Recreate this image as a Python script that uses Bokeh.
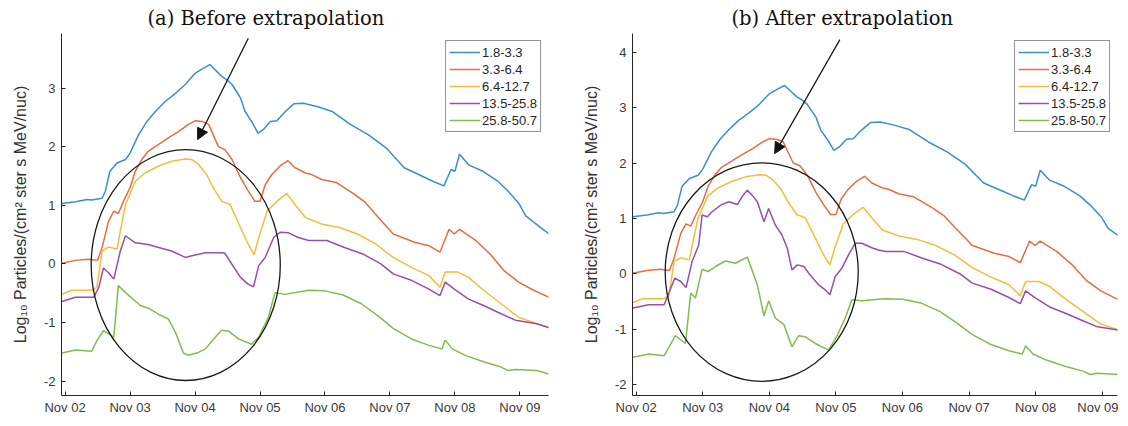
#Particle flux before / after extrapolation, two panels side by side

from bokeh.plotting import figure
from bokeh.layouts import row
from bokeh.models import Range1d, FixedTicker, Legend, LegendItem, Arrow, NormalHead
from bokeh.embed import file_html
from bokeh.resources import INLINE


# x is days since Nov 02 00:00, y is log10 flux
day_ticks = [0, 1, 2, 3, 4, 5, 6, 7]
day_labels = ["Nov 02", "Nov 03", "Nov 04", "Nov 05", "Nov 06", "Nov 07", "Nov 08", "Nov 09"]

channels = ["1.8-3.3", "3.3-6.4", "6.4-12.7", "13.5-25.8", "25.8-50.7"]
colors = ["#3a8fd0", "#e46e43", "#f4bd3c", "#9650ab", "#84bb4f"]

blue = [(-0.05, 1.03), (0.16, 1.06), (0.34, 1.10), (0.41, 1.09), (0.57, 1.12), (0.62, 1.24),
        (0.69, 1.58), (0.80, 1.72), (0.93, 1.78), (1.00, 1.89), (1.13, 2.20), (1.26, 2.43),
        (1.39, 2.60), (1.54, 2.77), (1.70, 2.91), (1.85, 3.06), (2.00, 3.25), (2.13, 3.34),
        (2.23, 3.40), (2.31, 3.31), (2.41, 3.20), (2.49, 3.14), (2.57, 3.06), (2.70, 2.83),
        (2.77, 2.60), (2.87, 2.43), (2.97, 2.23), (3.05, 2.29), (3.16, 2.43), (3.26, 2.44),
        (3.39, 2.60), (3.52, 2.73), (3.67, 2.74), (3.89, 2.68), (4.11, 2.60), (4.39, 2.38),
        (4.67, 2.20), (4.94, 1.98), (5.22, 1.64), (5.49, 1.50), (5.66, 1.41), (5.83, 1.33),
        (5.94, 1.61), (6.00, 1.58), (6.07, 1.87), (6.21, 1.69), (6.43, 1.58), (6.66, 1.41),
        (6.82, 1.24), (6.99, 1.02), (7.09, 0.82), (7.32, 0.62), (7.45, 0.51)]

orange = [(-0.05, 0.01), (0.16, 0.06), (0.36, 0.08), (0.50, 0.06), (0.57, 0.28), (0.67, 0.73),
          (0.75, 0.90), (0.82, 0.86), (0.90, 1.07), (1.00, 1.30), (1.08, 1.58), (1.18, 1.78),
          (1.28, 1.92), (1.44, 2.04), (1.59, 2.15), (1.75, 2.26), (1.90, 2.38), (2.00, 2.44),
          (2.11, 2.43), (2.21, 2.38), (2.28, 2.20), (2.36, 2.00), (2.46, 1.95), (2.57, 1.78),
          (2.70, 1.47), (2.82, 1.24), (2.92, 1.07), (3.00, 1.07), (3.08, 1.35), (3.18, 1.52),
          (3.31, 1.67), (3.43, 1.76), (3.54, 1.64), (3.70, 1.55), (3.78, 1.53), (3.95, 1.44),
          (4.17, 1.39), (4.45, 1.19), (4.62, 1.05), (4.76, 0.87), (5.05, 0.51), (5.38, 0.37),
          (5.60, 0.31), (5.77, 0.20), (5.91, 0.59), (5.99, 0.51), (6.07, 0.59), (6.32, 0.40),
          (6.54, 0.17), (6.76, -0.12), (6.98, -0.31), (7.21, -0.45), (7.45, -0.57)]

yellow = [(-0.05, -0.52), (0.10, -0.45), (0.41, -0.45), (0.49, -0.40), (0.57, 0.22), (0.67, 0.29),
          (0.80, 0.25), (0.85, 0.56), (0.93, 1.01), (1.08, 1.41), (1.23, 1.55), (1.44, 1.67),
          (1.64, 1.75), (1.85, 1.79), (1.95, 1.78), (2.05, 1.70), (2.18, 1.52), (2.28, 1.30),
          (2.41, 1.07), (2.54, 1.01), (2.70, 0.62), (2.82, 0.33), (2.91, 0.16), (2.98, 0.45),
          (3.11, 0.90), (3.26, 1.07), (3.41, 1.20), (3.54, 1.01), (3.70, 0.79), (3.95, 0.68),
          (4.22, 0.62), (4.50, 0.51), (4.78, 0.34), (5.05, 0.11), (5.33, -0.06), (5.60, -0.20),
          (5.77, -0.40), (5.85, -0.14), (6.05, -0.14), (6.21, -0.23), (6.44, -0.45), (6.71, -0.68),
          (6.98, -0.91), (7.26, -1.02), (7.45, -1.08)]

purple = [(-0.05, -0.64), (0.16, -0.57), (0.44, -0.57), (0.52, -0.40), (0.59, -0.07), (0.67, -0.15),
          (0.75, -0.26), (0.85, 0.22), (0.93, 0.48), (1.08, 0.36), (1.28, 0.33), (1.44, 0.28),
          (1.64, 0.22), (1.85, 0.11), (1.95, 0.14), (2.16, 0.19), (2.41, 0.19), (2.46, 0.18),
          (2.57, -0.01), (2.70, -0.23), (2.82, -0.35), (2.90, -0.39), (2.98, -0.03), (3.08, 0.11),
          (3.21, 0.45), (3.31, 0.54), (3.44, 0.53), (3.59, 0.45), (3.75, 0.40), (4.03, 0.40),
          (4.30, 0.28), (4.58, 0.17), (4.86, 0.00), (5.05, -0.17), (5.33, -0.28), (5.60, -0.43),
          (5.77, -0.54), (5.85, -0.31), (5.99, -0.43), (6.21, -0.60), (6.44, -0.71), (6.71, -0.85),
          (6.93, -0.96), (7.26, -1.02), (7.45, -1.09)]

green = [(-0.05, -1.52), (0.16, -1.47), (0.41, -1.49), (0.49, -1.31), (0.59, -1.14), (0.75, -1.25),
         (0.82, -0.37), (0.93, -0.49), (1.16, -0.71), (1.31, -0.77), (1.44, -0.86), (1.59, -0.94),
         (1.70, -1.17), (1.82, -1.52), (1.90, -1.56), (2.05, -1.51), (2.16, -1.45), (2.31, -1.25),
         (2.41, -1.13), (2.52, -1.15), (2.67, -1.28), (2.87, -1.37), (2.98, -1.25), (3.13, -0.91),
         (3.23, -0.49), (3.39, -0.52), (3.59, -0.48), (3.75, -0.45), (4.00, -0.46), (4.28, -0.53),
         (4.56, -0.68), (4.83, -0.90), (5.05, -1.10), (5.33, -1.28), (5.60, -1.39), (5.80, -1.45),
         (5.85, -1.30), (5.96, -1.45), (6.16, -1.56), (6.44, -1.67), (6.71, -1.76), (6.82, -1.82),
         (6.93, -1.80), (7.26, -1.82), (7.45, -1.88)]

# extrapolated part of the two high channels (panel b), rest is same as panel a
purple_after = [(-0.05, -0.62), (0.19, -0.56), (0.42, -0.56), (0.48, -0.38), (0.58, -0.08),
                (0.67, -0.14), (0.75, -0.25), (0.84, 0.22), (0.94, 0.52), (0.99, 1.06), (1.07, 1.03),
                (1.14, 1.12), (1.27, 1.24), (1.39, 1.30), (1.52, 1.25), (1.59, 1.39), (1.67, 1.51),
                (1.74, 1.42), (1.82, 1.30), (1.92, 0.94), (1.99, 1.18), (2.09, 0.88), (2.19, 0.70),
                (2.27, 0.46), (2.34, 0.07), (2.42, 0.16), (2.52, 0.13), (2.61, -0.02), (2.74, -0.20),
                (2.84, -0.29), (2.91, -0.38), (2.99, -0.05), (3.09, 0.10), (3.19, 0.34), (3.29, 0.55),
                (3.39, 0.55), (3.54, 0.47), (3.64, 0.43)]

green_after = [(-0.05, -1.51), (0.19, -1.45), (0.42, -1.48), (0.59, -1.12), (0.74, -1.26),
               (0.82, -0.35), (0.89, -0.44), (0.99, 0.08), (1.08, 0.04), (1.19, 0.13), (1.34, 0.23),
               (1.49, 0.19), (1.67, 0.30), (1.82, -0.20), (1.92, -0.76), (1.99, -0.49), (2.09, -0.80),
               (2.22, -0.92), (2.34, -1.32), (2.44, -1.12), (2.54, -1.14), (2.69, -1.26), (2.89, -1.38),
               (3.01, -1.14), (3.14, -0.80), (3.24, -0.47), (3.39, -0.49), (3.64, -0.46)]

# circle (center x, center y, width, height) and arrow (x0, y0, x1, y1) for each panel
circle_a = (1.857, -0.02, 2.91, 3.94)
circle_b = (1.886, 0.03, 2.90, 3.95)
arrow_a = (2.82, 3.85, 2.04, 2.12)
arrow_b = (3.06, 4.23, 2.08, 2.17)


def spliced(after, before):
    last = after[-1][0]
    return after + [pt for pt in before if pt[0] > last]


def panel(title, series, x_end, y_range, y_ticks, circle, arrow, width, left, right, title_offset):
    p = figure(width=width, height=418, x_range=Range1d(-0.055, x_end), y_range=Range1d(*y_range),
               output_backend="svg", toolbar_location=None,
               min_border_left=left, min_border_right=right, min_border_top=31, min_border_bottom=23)
    p.title.text = title
    p.title.text_font = "DejaVu Serif"
    p.title.text_font_size = "19.5px"
    p.title.text_font_style = "normal"
    p.title.text_color = "#111111"
    p.title.align = "left"
    p.title.offset = title_offset
    p.title.standoff = 8

    p.outline_line_color = None
    p.grid.visible = False

    p.xaxis.ticker = FixedTicker(ticks=day_ticks)
    p.xaxis.major_label_overrides = {t: l for t, l in zip(day_ticks, day_labels)}
    p.yaxis.ticker = FixedTicker(ticks=y_ticks)
    p.yaxis.major_label_overrides = {t: str(t) for t in y_ticks}
    p.yaxis.axis_label = "Log\u2081\u2080 Particles/(cm\u00b2 ster s MeV/nuc)"
    p.yaxis.axis_label_text_font = "Liberation Sans"
    p.yaxis.axis_label_text_font_size = "16px"
    p.yaxis.axis_label_text_font_style = "normal"
    p.yaxis.axis_label_text_color = "#333333"
    p.yaxis.axis_label_standoff = 12
    p.yaxis.major_label_standoff = 6
    p.xaxis.major_label_standoff = 4
    for ax in [p.xaxis, p.yaxis]:
        ax.axis_line_color = "#262626"
        ax.major_tick_line_color = "#262626"
        ax.major_tick_in = 4
        ax.major_tick_out = 0
        ax.minor_tick_line_color = None
        ax.major_label_text_font = "Liberation Sans"
        ax.major_label_text_font_size = "13px"
        ax.major_label_text_color = "#3a3a3a"

    items = []
    for name, c, pts in zip(channels, colors, series):
        r = p.line([t for t, v in pts], [v for t, v in pts], line_color=c, line_width=1.5)
        items.append(LegendItem(label=name, renderers=[r]))

    cx, cy, cw, ch = circle
    p.ellipse(x=[cx], y=[cy], width=[cw], height=[ch], fill_alpha=0,
              line_color="#1a1a1a", line_width=1.3)

    x0, y0, x1, y1 = arrow
    p.add_layout(Arrow(end=NormalHead(size=11, fill_color="#111111", line_color="#111111"),
                       x_start=x0, y_start=y0, x_end=x1, y_end=y1,
                       line_color="#111111", line_width=1.2))

    leg = Legend(items=items, location="top_right", margin=7, padding=3, spacing=1,
                 label_height=16, glyph_height=16, glyph_width=31, label_standoff=2,
                 label_text_font="Liberation Sans", label_text_font_size="13px",
                 label_text_color="#262626", border_line_color="#262626",
                 border_line_width=1, background_fill_alpha=1)
    p.add_layout(leg)
    return p


p1 = panel("(a) Before extrapolation", [blue, orange, yellow, purple, green],
           7.44, (-2.245, 3.93), [-2, -1, 0, 1, 2, 3], circle_a, arrow_a,
           566, 61, 18, 86)
p2 = panel("(b) After extrapolation",
           [blue, orange, yellow, spliced(purple_after, purple), spliced(green_after, green)],
           7.23, (-2.2, 4.34), [-2, -1, 0, 1, 2, 3, 4], circle_b, arrow_b,
           552, 66, 1, 99)

p = row(p1, p2)
open("out.html", "w").write(file_html(p, INLINE))
